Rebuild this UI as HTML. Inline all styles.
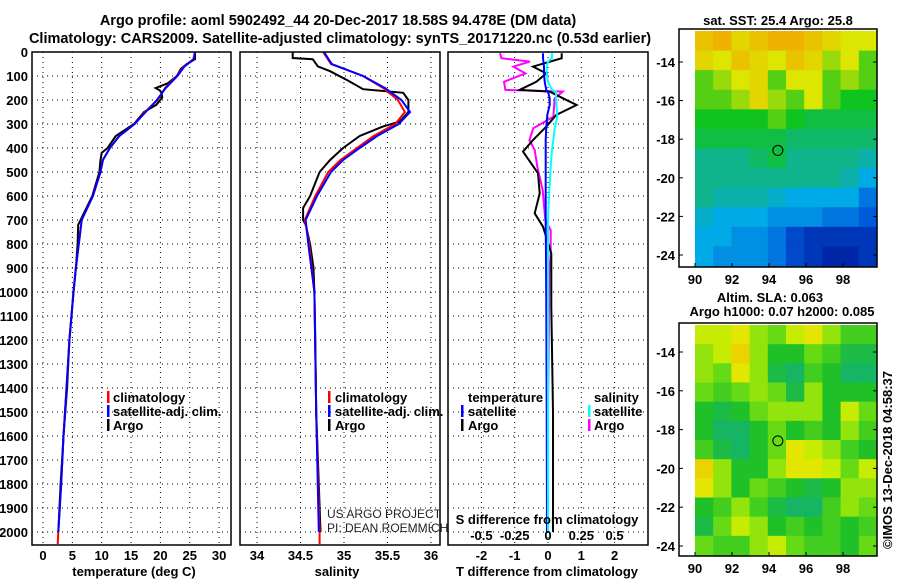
<!DOCTYPE html>
<html><head><meta charset="utf-8"><style>
body{margin:0;background:#fff}
svg{display:block;font-family:"Liberation Sans",sans-serif}
.b{font-weight:bold;font-size:14.5px}
.m{font-weight:bold;font-size:13px}
.t{font-weight:bold;font-size:13px}
</style></head><body>
<svg id="c" width="900" height="580" viewBox="0 0 900 580">
<g>
<text class="b" x="338" y="25" text-anchor="middle">Argo profile: aoml 5902492_44 20-Dec-2017 18.58S 94.478E (DM data)</text>
<text class="b" x="340" y="43" text-anchor="middle">Climatology: CARS2009. Satellite-adjusted climatology: synTS_20171220.nc (0.53d earlier)</text>
<text class="m" x="778" y="25" text-anchor="middle">sat. SST: 25.4 Argo: 25.8</text>
<text class="m" x="770" y="302" text-anchor="middle">Altim. SLA: 0.063</text>
<text class="m" x="782" y="316" text-anchor="middle">Argo h1000: 0.07 h2000: 0.085</text>
</g>
<g id="grid"></g>
<g id="maps"></g>
<g id="lines"></g>
<g id="frames"></g>
<g id="labels"></g>
<g>
<rect x="107" y="391" width="2.5" height="12" fill="#f00"/><text class="t" x="113" y="402">climatology</text>
<rect x="107" y="405" width="2.5" height="12" fill="#00f"/><text class="t" x="113" y="416">satellite-adj. clim.</text>
<rect x="107" y="419" width="2.5" height="12" fill="#000"/><text class="t" x="113" y="430">Argo</text>
<rect x="328" y="391" width="2.5" height="12" fill="#f00"/><text class="t" x="335" y="402">climatology</text>
<rect x="328" y="405" width="2.5" height="12" fill="#00f"/><text class="t" x="335" y="416">satellite-adj. clim.</text>
<rect x="328" y="419" width="2.5" height="12" fill="#000"/><text class="t" x="335" y="430">Argo</text>
<text class="t" x="468" y="402">temperature</text>
<rect x="461" y="405" width="2.5" height="12" fill="#00f"/><text class="t" x="468" y="416">satellite</text>
<rect x="461" y="419" width="2.5" height="12" fill="#000"/><text class="t" x="468" y="430">Argo</text>
<text class="t" x="594" y="402">salinity</text>
<rect x="588" y="405" width="2.5" height="12" fill="#0ff"/><text class="t" x="594" y="416">satellite</text>
<rect x="588" y="419" width="2.5" height="12" fill="#f0f"/><text class="t" x="594" y="430">Argo</text>
<text x="327" y="518" font-size="12" fill="#222">US ARGO PROJECT</text>
<text x="327" y="532" font-size="12" fill="#222">PI: DEAN ROEMMICH</text>
<text class="t" x="547" y="524" text-anchor="middle">S difference from climatology</text>
<text class="t" x="0" y="0" transform="translate(892,460) rotate(-90)" text-anchor="middle" font-weight="normal">©IMOS 13-Dec-2018 04:58:37</text>
</g>
</svg>
<script>
// ---- data ----
const depthTicks=[0,100,200,300,400,500,600,700,800,900,1000,1100,1200,1300,1400,1500,1600,1700,1800,1900,2000];
const tempTicks=[0,5,10,15,20,25,30];
const salTicks=[34,34.5,35,35.5,36];
const tdiffTicks=[-2,-1,0,1,2];
const sdiffTicks=[-0.5,-0.25,0,0.25,0.5];
const argoTDepth=[0,30,50,70,100,130,150,160,170,190,220,250,300,350,400,420,450,500,600,700,720,800,900,1000,1200,1400,1600,1800,2000];
const argoTemp=[25.9,25.9,24.5,23.5,22.8,21.3,19.2,19.9,20.2,20.3,19.3,17.2,15.5,12.4,11.0,10.0,9.8,9.6,8.4,6.4,6.0,5.9,5.6,5.2,4.5,4.1,3.5,3.0,2.6];
const climTDepth=[0,30,60,100,150,200,250,300,350,400,450,500,600,700,800,900,1000,1200,1400,1600,1800,2000,2050];
const climTemp=[25.9,25.6,24.0,22.8,20.8,19.5,17.4,15.6,13.0,11.4,10.2,9.8,8.5,6.6,6.1,5.6,5.2,4.5,4.0,3.5,3.1,2.6,2.5];
const satTemp=[25.9,25.7,24.1,22.9,20.9,19.4,17.5,15.6,13.0,11.4,10.2,9.8,8.5,6.6,6.1,5.6,5.2,4.5,4.0,3.5,3.1,2.6,2.5];
const argoSDepth=[0,25,30,60,80,120,130,155,170,200,250,290,310,350,400,450,500,600,650,700,720,800,900,1000,1200,1500,2000];
const argoSal=[34.41,34.41,34.64,34.70,34.84,35.05,35.10,35.22,35.68,35.74,35.74,35.64,35.45,35.18,34.99,34.84,34.72,34.61,34.53,34.53,34.56,34.61,34.65,34.66,34.67,34.68,34.73];
const climSDepth=[0,50,100,150,200,250,300,350,400,450,500,600,700,800,1000,1500,2000,2050];
const climSal=[34.76,34.85,35.22,35.45,35.62,35.70,35.59,35.34,35.15,34.96,34.82,34.67,34.55,34.60,34.66,34.68,34.72,34.72];
const satSal=[34.77,34.86,35.22,35.47,35.66,35.76,35.63,35.38,35.18,34.99,34.85,34.69,34.56,34.59,34.66,34.68,34.71,34.71];
const tdDepth=[5,26,61,89,124,158,165,193,221,262,311,367,415,505,589,672,728,839,1061,1500,2000];
const tdArgo=[0.41,0.41,-0.45,-0.05,-0.35,-0.85,0.05,0.45,0.86,0.25,-0.05,-0.45,-0.75,-0.3,-0.25,-0.4,-0.15,0.1,0.1,0.15,0.15];
const tdSat=[-0.15,-0.15,-0.12,-0.12,-0.1,-0.05,0,0.05,0.05,-0.02,-0.05,-0.07,-0.07,-0.07,-0.07,-0.07,-0.07,-0.06,-0.05,-0.04,-0.03];
const sdDepth=[5,26,40,61,89,124,158,165,193,270,318,367,408,478,575,700,742,839,922,1500,2000];
const sdArgo=[-0.36,-0.35,-0.135,-0.26,-0.17,-0.33,-0.32,0.11,0.05,0.04,-0.11,-0.14,-0.10,-0.08,-0.04,-0.02,0.02,0.02,0.01,0.0,0.0];
const sdSat=[0.03,0.03,0.0,-0.01,-0.01,0.0,0.03,0.06,0.06,0.07,0.05,0.04,0.03,0.02,0.01,0.0,0.0,0.0,0.0,0.0,0.0];
const sstGrid=[[.9,.95,.85,.9,.95,.95,.9,.85,.8,.8],[.85,.8,.9,.85,.8,.9,.85,.75,.8,.7],[.7,.75,.8,.85,.7,.8,.8,.7,.75,.7],[.7,.7,.75,.85,.75,.7,.8,.7,.65,.65],[.65,.65,.65,.65,.7,.65,.6,.6,.6,.6],[.6,.6,.6,.6,.6,.55,.55,.55,.55,.55],[.5,.5,.5,.55,.6,.5,.5,.5,.5,.45],[.5,.5,.5,.5,.5,.5,.5,.5,.45,.35],[.5,.45,.45,.45,.4,.35,.35,.35,.35,.25],[.4,.35,.35,.35,.3,.3,.3,.25,.25,.2],[.35,.35,.3,.3,.25,.15,.1,.1,.1,.1],[.35,.3,.3,.3,.25,.15,.1,.05,.05,.1]];
const slaGrid=[[.7,.7,.8,.6,.5,.7,.8,.6,.4,.4],[.6,.7,.9,.6,.3,.3,.5,.4,.2,.2],[.6,.5,.8,.6,.2,.1,.4,.3,.1,.1],[.5,.4,.5,.6,.5,.2,.6,.3,.3,.3],[.3,.2,.3,.5,.6,.6,.6,.3,.7,.5],[.3,.1,.1,.3,.5,.3,.4,.3,.6,.4],[.4,.2,.1,.3,.5,.8,.7,.6,.4,.3],[.9,.6,.3,.3,.6,.8,.8,.7,.5,.7],[.8,.6,.3,.5,.4,.3,.2,.3,.6,.6],[.3,.4,.6,.4,.2,.1,.1,.4,.6,.5],[.2,.5,.7,.6,.3,.4,.3,.4,.3,.4],[.5,.4,.4,.6,.7,.5,.4,.4,.3,.5]];
const latTicks=[-14,-16,-18,-20,-22,-24];
const lonTicks=[90,92,94,96,98];
const floatLon=94.478, floatLat=-18.58;

// ---- scales ----
const NS='http://www.w3.org/2000/svg';
const yD=d=>52+d*0.24;
const xT=t=>43+t*5.87;
const xS=s=>257+(s-34)*87;
const xTD=v=>548+v*33.3;
const xSD=v=>548+v*133.2;
const panels=[[32,231],[240,440],[448,648]];
const TOP=52,BOT=545;
function mk(tag,attrs,parent){const e=document.createElementNS(NS,tag);for(const k in attrs)e.setAttribute(k,attrs[k]);parent.appendChild(e);return e;}
const G=document.getElementById('grid'),L=document.getElementById('lines'),F=document.getElementById('frames'),LB=document.getElementById('labels'),M=document.getElementById('maps');

panels.forEach(([a,b],pi)=>{
  depthTicks.forEach(d=>{const l=mk('line',{x1:a,x2:b,y1:yD(d),y2:yD(d),stroke:'#000','stroke-width':1,'stroke-dasharray':'1,4'},G);
  
  });
});
[[tempTicks,xT],[salTicks,xS],[tdiffTicks,xTD]].forEach(([ts,f])=>ts.forEach(t=>{
  const l=mk('line',{x1:f(t),x2:f(t),y1:TOP,y2:BOT,stroke:'#000','stroke-width':1,'stroke-dasharray':'1,4'},G);
  
  }));

function prof(depths,vals,f,col,name){
  const pts=depths.map((d,i)=>f(vals[i]).toFixed(1)+','+yD(d).toFixed(1)).join(' ');
  const p=mk('polyline',{points:pts,fill:'none',stroke:col,'stroke-width':2},L);
  
  
}
prof(argoTDepth,argoTemp,xT,'#000','argo-temperature-line');
prof(climTDepth,climTemp,xT,'#f00','climatology-temperature-line');
prof(climTDepth.slice(0,-1),satTemp.slice(0,-1),xT,'#00f','satellite-temperature-line');
prof(argoSDepth,argoSal,xS,'#000','argo-salinity-line');
prof(climSDepth,climSal,xS,'#f00','climatology-salinity-line');
prof(climSDepth.slice(0,-1),satSal.slice(0,-1),xS,'#00f','satellite-salinity-line');
prof(sdDepth,sdArgo,xSD,'#f0f','argo-salinity-diff-line');
prof(tdDepth,tdArgo,xTD,'#000','argo-temperature-diff-line');
prof(tdDepth,tdSat,xTD,'#00f','satellite-temperature-diff-line');
prof(sdDepth,sdSat,xSD,'#0ff','satellite-salinity-diff-line');

panels.forEach(([a,b],i)=>{const r=mk('rect',{x:a,y:TOP,width:b-a,height:BOT-TOP,fill:'none',stroke:'#000','stroke-width':1.5},F);

});

function txt(x,y,s,anchor,name){const t=mk('text',{x:x,y:y,'text-anchor':anchor,class:'t'},LB);t.textContent=s;

return t;}
depthTicks.forEach(d=>txt(28,yD(d)+5,String(d),'end','depth-tick-label'));
tempTicks.forEach(t=>txt(xT(t),560,String(t),'middle','temperature-tick-label'));
salTicks.forEach(t=>txt(xS(t),560,String(t),'middle','salinity-tick-label'));
tdiffTicks.forEach(t=>txt(xTD(t),560,String(t),'middle','t-diff-tick-label'));
sdiffTicks.forEach(t=>txt(xSD(t),540,String(t),'middle','s-diff-tick-label'));
txt(134,576,'temperature (deg C)','middle','temperature-axis-title');
txt(337,576,'salinity','middle','salinity-axis-title');
txt(547,576,'T difference from climatology','middle','t-diff-axis-title');

function sstCol(v){const stops=[[0,[0,20,150]],[.2,[0,90,220]],[.35,[0,170,230]],[.5,[16,180,140]],[.65,[16,195,30]],[.8,[220,230,0]],[1,[245,160,0]]];return interp(stops,v);}
function slaCol(v){const stops=[[0,[16,176,128]],[.3,[32,192,40]],[.55,[120,224,16]],[.75,[224,240,0]],[1,[240,192,0]]];return interp(stops,v);}
function interp(stops,v){for(let i=1;i<stops.length;i++){if(v<=stops[i][0]){const [a,ca]=stops[i-1],[b,cb]=stops[i];const f=(v-a)/(b-a);return 'rgb('+ca.map((c,j)=>Math.round(c+(cb[j]-c)*f)).join(',')+')';}}return 'rgb('+stops[stops.length-1][1].join(',')+')';}
function map(grid,colf,y0,y1,latY,name){
  const x0=695,x1=877,rows=grid.length,cols=grid[0].length,cw=(x1-x0)/cols,rh=(y1-y0)/rows;
  const g=mk('g',{},M);
  
  
  grid.forEach((row,r)=>row.forEach((v,c)=>{const re=mk('rect',{x:x0+c*cw,y:y0+r*rh,width:cw+0.5,height:rh+0.5,fill:colf(v)},g);
    
    }));
  const fr=mk('rect',{x:679,y:y0-2,width:198,height:y1-y0+3,fill:'none',stroke:'#000','stroke-width':1.5},g);
  
  
  const lonX=lon=>695+(lon-90)*18.5;
  latTicks.forEach(la=>{const y=latY(la);mk('line',{x1:679,x2:683,y1:y,y2:y,stroke:'#000'},g);mk('line',{x1:873,x2:877,y1:y,y2:y,stroke:'#000'},g);
    txt(675,y+5,String(la),'end','latitude-tick-label');});
  lonTicks.forEach(lo=>{const x=lonX(lo);mk('line',{x1:x,x2:x,y1:y1+1,y2:y1-3,stroke:'#000'},g);
    txt(x,y1+18,String(lo),'middle','longitude-tick-label');});
  const ci=mk('circle',{cx:lonX(floatLon),cy:latY(floatLat),r:5,fill:'none',stroke:'#000','stroke-width':1},g);
  
  
}
map(sstGrid,sstCol,31,266,la=>62+(-14-la)*19.3,'sst-map');
map(slaGrid,slaCol,325,555,la=>352+(-14-la)*19.4,'sla-map');
</script>
</body></html>
